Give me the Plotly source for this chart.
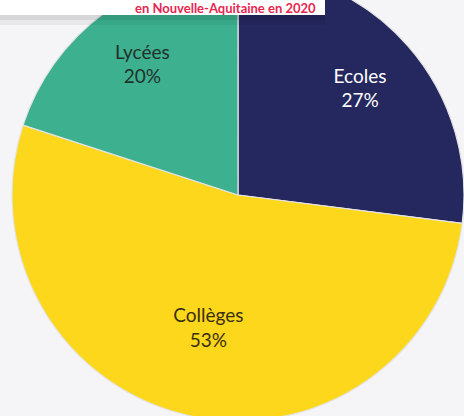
import plotly.graph_objects as go

categories = ["Ecoles", "Collèges", "Lycées"]
values = [27, 53, 20]
colors = ["#25275f", "#fdd71b", "#3cb08f"]
text_colors = ["#ffffff", "#3a2e12", "#22302b"]
title_text = "en Nouvelle-Aquitaine en 2020"

W, H = 464, 452      # figure size; page shows the window 464x416
SHIFT = 31           # pixels of the figure hidden above the window
BG = "#f5f5f7"
FONT = "Lato, Open Sans, sans-serif"
dom = dict(x=[12 / W, 1], y=[0, 1])

# filled pie with separators, no text
base = go.Pie(
    labels=categories, values=values, sort=False, direction="clockwise", rotation=0,
    marker=dict(colors=colors, line=dict(color="#e4e4e4", width=1.2)),
    textinfo="none", hoverinfo="skip", showlegend=False, domain=dom,
)

# transparent overlays that only carry the slice labels, at different ring depths
def label_layer(hole, show):
    tmpl = ["%{label}<br>%{percent:.0%}" if s else "" for s in show]
    return go.Pie(
        labels=categories, values=values, sort=False, direction="clockwise", rotation=0,
        hole=hole,
        marker=dict(colors=["rgba(0,0,0,0)"] * len(values), line=dict(width=0)),
        texttemplate=tmpl, textposition="inside", insidetextorientation="horizontal",
        textfont=dict(family=FONT, size=19, color=text_colors),
        hoverinfo="skip", showlegend=False, domain=dom,
    )

fig = go.Figure([base,
                 label_layer(0.44, [True, False, True]),
                 label_layer(0.20, [False, True, False])])

top = 1 - SHIFT / H
box_h = 15
fig.update_layout(
    width=W, height=H,
    margin=dict(l=0, r=0, t=0, b=0),
    paper_bgcolor=BG, plot_bgcolor=BG,
    shapes=[
        dict(type="rect", xref="paper", yref="paper",
             x0=0, x1=325 / W, y0=top - (box_h + 10) / H, y1=top - box_h / H,
             fillcolor="rgba(0,0,0,0.05)", line=dict(width=0), layer="above"),
        dict(type="rect", xref="paper", yref="paper",
             x0=0, x1=325 / W, y0=top - (box_h + 5) / H, y1=top - box_h / H,
             fillcolor="rgba(0,0,0,0.07)", line=dict(width=0), layer="above"),
        dict(type="rect", xref="paper", yref="paper",
             x0=0, x1=325 / W, y0=top - box_h / H, y1=1,
             fillcolor="#ffffff", line=dict(width=0), layer="above"),
    ],
    annotations=[
        dict(text=title_text, xref="paper", yref="paper",
             x=318 / W, y=top - (box_h / 2) / H, xanchor="right", yanchor="middle",
             showarrow=False,
             font=dict(family=FONT, size=13, color="#e6264f", weight="bold")),
    ],
)

post = ("document.body.style.margin='0';document.body.style.background='%s';"
        "document.body.style.overflow='hidden';"
        "var d=document.getElementById('{plot_id}');d.style.marginTop='-%dpx';" % (BG, SHIFT))

fig.write_html("out.html", post_script=post)
